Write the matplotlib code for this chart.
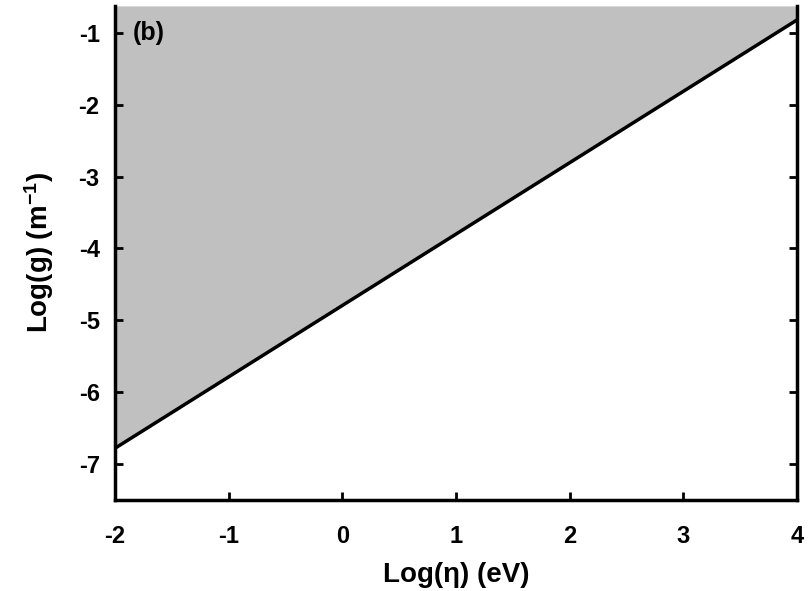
import numpy as np
import matplotlib
matplotlib.use("Agg")
import matplotlib.pyplot as plt

# boundary line
log_eta = [-2.0, 4.0]
log_g = [-6.78, -0.82]
x_ticks = [-2, -1, 0, 1, 2, 3, 4]
y_ticks = [-7, -6, -5, -4, -3, -2, -1]

plt.rcParams['font.family'] = ['Liberation Sans', 'DejaVu Sans']
plt.rcParams['font.weight'] = 'bold'
plt.rcParams['axes.unicode_minus'] = False
plt.rcParams['mathtext.fontset'] = 'custom'
plt.rcParams['mathtext.rm'] = 'Liberation Sans:bold'
plt.rcParams['mathtext.bf'] = 'Liberation Sans:bold'
plt.rcParams['mathtext.default'] = 'rm'

fig = plt.figure(figsize=(8.1, 5.91), dpi=100)
ax = fig.add_axes([0.142, 0.154, 0.842, 0.836])

ylo, yhi = -7.5, -0.625
ax.fill_between(log_eta, log_g, yhi, color='#c0c0c0', lw=0)
ax.plot(log_eta, log_g, color='black', lw=2.5)

ax.set_xlim(-2, 4)
ax.set_ylim(ylo, yhi)
ax.set_xticks(x_ticks)
ax.set_yticks(y_ticks)
ax.spines['top'].set_visible(False)
for s in ['left', 'bottom', 'right']:
    ax.spines[s].set_linewidth(2.5)
ax.tick_params(direction='in', length=6, width=2, labelsize=17,
               right=True, top=False)
ax.tick_params(axis='x', pad=18)
ax.tick_params(axis='y', pad=11)

ax.text(-1.84, -1.0, '(b)', fontsize=18, fontweight='bold', va='center', ha='left')

ax.set_xlabel('Log(η) (eV)', fontsize=20, fontweight='bold', labelpad=10)
ax.set_ylabel('Log(g) (m$^{-1}$)', fontsize=20, fontweight='bold', labelpad=16)

fig.savefig('out.png', dpi=100)
